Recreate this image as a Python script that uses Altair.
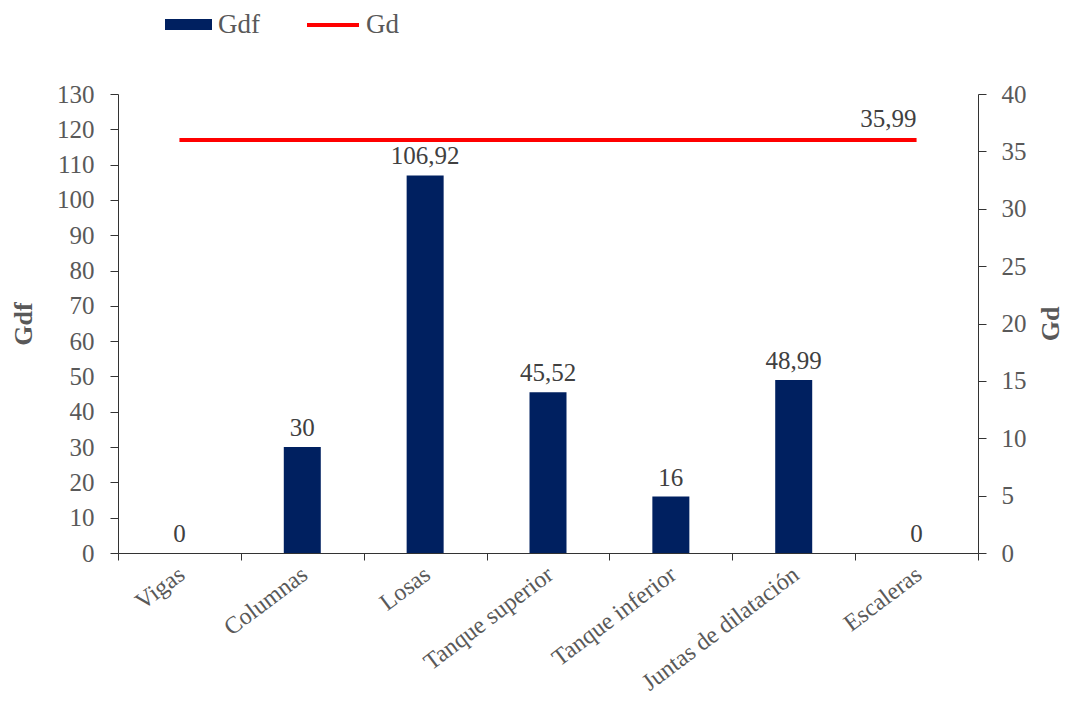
import altair as alt
import pandas as pd

categories = ["Vigas", "Columnas", "Losas", "Tanque superior",
              "Tanque inferior", "Juntas de dilatación", "Escaleras"]
gdf_values = [0, 30, 106.92, 45.52, 16, 48.99, 0]
gdf_labels = ["0", "30", "106,92", "45,52", "16", "48,99", "0"]
gd_values = [35.99, 35.99, 35.99, 35.99, 35.99, 35.99, 35.99]
gd_labels = ["", "", "", "", "", "", "35,99"]

df = pd.DataFrame({
    "cat": categories,
    "gdf": gdf_values,
    "gdf_lab": gdf_labels,
    "gd": gd_values,
    "gd_lab": gd_labels,
    "s1": ["Gdf"] * len(categories),
    "s2": ["Gd"] * len(categories),
})

FONT = "Liberation Serif"
GRAY = "#595959"
AXC = "#333333"

x_enc = alt.X(
    "cat:N", sort=categories, title=None,
    scale=alt.Scale(paddingInner=0, paddingOuter=0),
    axis=alt.Axis(labelAngle=-37, tickBand="extent", labelFontSize=24,
                  labelColor=GRAY, labelFont=FONT, tickSize=7, tickColor=AXC,
                  domainColor=AXC, labelPadding=2, labelAlign="right",
                  labelBaseline="top", labelLimit=0, labelOffset=-5,
                  grid=False),
)

y_left = alt.Y(
    "gdf:Q", scale=alt.Scale(domain=[0, 130], nice=False, zero=True),
    axis=alt.Axis(values=list(range(0, 131, 10)), title="Gdf", orient="left",
                  titleFont=FONT, titleFontSize=26, titleFontWeight="bold",
                  titleColor=GRAY, titlePadding=20, labelFont=FONT,
                  labelFontSize=25, labelColor=GRAY, tickSize=8,
                  tickColor=AXC, domainColor=AXC, labelPadding=16, grid=False),
)

y_right = alt.Y(
    "gd:Q", scale=alt.Scale(domain=[0, 40], nice=False, zero=True),
    axis=alt.Axis(values=list(range(0, 41, 5)), title="Gd", orient="right",
                  titleAngle=270, titleFont=FONT, titleFontSize=26,
                  titleFontWeight="bold", titleColor=GRAY, titlePadding=37,
                  labelFont=FONT, labelFontSize=25, labelColor=GRAY,
                  tickSize=8, tickColor=AXC, domainColor=AXC,
                  labelPadding=15, grid=False),
)

bars = alt.Chart(df).mark_bar(size=37).encode(
    x=x_enc,
    y=y_left,
    color=alt.Color(
        "s1:N", scale=alt.Scale(domain=["Gdf"], range=["#002060"]),
        legend=alt.Legend(title=None, orient="none", legendX=47, legendY=-93,
                          symbolType="M-1,-0.234H1V0.234H-1Z", symbolSize=2209,
                          symbolStrokeWidth=0, labelFont=FONT, labelFontSize=27,
                          labelColor=GRAY, labelOffset=6),
    ),
)

bar_text = alt.Chart(df).mark_text(
    font=FONT, fontSize=25, color="#404040", baseline="bottom", dy=-6
).encode(x=x_enc, y=y_left, text="gdf_lab:N")

line = alt.Chart(df).mark_line(strokeWidth=4).encode(
    x=x_enc,
    y=y_right,
    stroke=alt.Stroke(
        "s2:N", scale=alt.Scale(domain=["Gd"], range=["#FF0000"]),
        legend=alt.Legend(title=None, orient="none", legendX=187, legendY=-97,
                          symbolType="M-1,0H1", symbolSize=2704,
                          symbolStrokeWidth=4, labelFont=FONT, labelFontSize=27,
                          labelColor=GRAY, labelOffset=5, labelLimit=200),
    ),
)

line_text = alt.Chart(df).mark_text(
    font=FONT, fontSize=25, color="#404040", align="right",
    baseline="bottom", dy=-8
).encode(x=x_enc, y=y_right, text="gd_lab:N")

chart = alt.layer(
    alt.layer(bars, bar_text),
    alt.layer(line, line_text),
).resolve_scale(
    y="independent", color="independent", stroke="independent"
).properties(
    width=860, height=459,
    autosize=alt.AutoSizeParams(type="none"),
    padding={"left": 110, "top": 86, "right": 89, "bottom": 144},
    background="white",
).configure_view(stroke=None)

chart.save("out.html", embed_options={"renderer": "svg", "actions": False})
